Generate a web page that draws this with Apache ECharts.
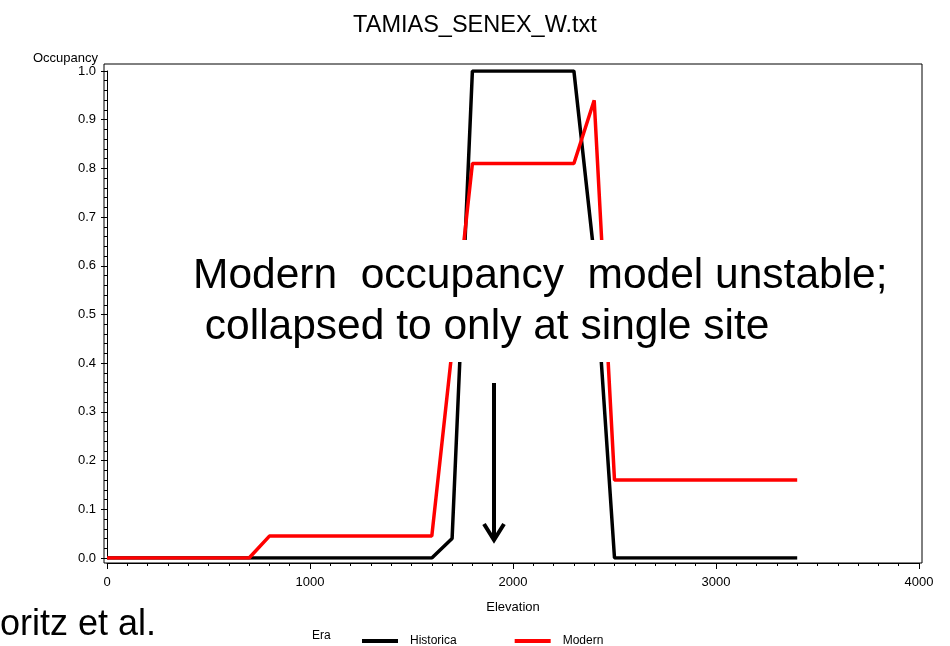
<!DOCTYPE html>
<html>
<head>
<meta charset="utf-8">
<script src="https://cdn.jsdelivr.net/npm/echarts@6/dist/echarts.min.js"></script>
<style>html,body{margin:0;padding:0;background:#fff;}#c{width:950px;height:646px;}</style>
</head>
<body>
<div id="c"></div>
<script>
const chartTitle = 'TAMIAS_SENEX_W.txt';
const seriesNames = ['Historica', 'Modern'];
const historicaElev = [0, 1600, 1700, 1800, 2300, 2400, 2500, 3400];
const historicaOcc  = [0.0, 0.0, 0.04, 1.0, 1.0, 0.62, 0.0, 0.0];
const modernElev = [0, 700, 800, 1600, 1800, 2300, 2400, 2500, 3400];
const modernOcc  = [0.0, 0.0, 0.045, 0.045, 0.81, 0.81, 0.94, 0.16, 0.16];
const annotationLines = ['Modern  occupancy  model unstable;', ' collapsed to only at single site'];
const creditText = 'oritz et al.';

const FONT = 'Liberation Sans, Arial, sans-serif';
const chart = echarts.init(document.getElementById('c'), null, {renderer: 'canvas'});

function pairs(xs, ys) { return xs.map((x, i) => [x, ys[i]]); }

chart.setOption({
  animation: false,
  backgroundColor: '#fff',
  title: {
    text: chartTitle, left: 'center', top: 9,
    textStyle: {fontFamily: FONT, fontSize: 23.5, fontWeight: 'normal', color: '#000'}
  },
  grid: {left: 107, right: 31, top: 71, bottom: 88},
  xAxis: {
    type: 'value', min: 0, max: 4000, interval: 1000, offset: 5,
    name: 'Elevation', nameLocation: 'middle', nameGap: 38,
    nameTextStyle: {fontFamily: FONT, fontSize: 13, color: '#000'},
    axisLine: {show: true, onZero: false, lineStyle: {color: '#000', width: 1}},
    axisTick: {show: true, inside: false, length: 6, lineStyle: {color: '#000'}},
    minorTick: {show: true, splitNumber: 10, length: 3, lineStyle: {color: '#000'}},
    splitLine: {show: false},
    axisLabel: {fontFamily: FONT, fontSize: 13, color: '#000', margin: 13, formatter: v => String(v)}
  },
  yAxis: {
    type: 'value', min: 0, max: 1, interval: 0.1, offset: 3,
    name: 'Occupancy', nameLocation: 'end', nameGap: 6,
    nameTextStyle: {fontFamily: FONT, fontSize: 13, color: '#000', align: 'right', verticalAlign: 'bottom', padding: [0, 9, 0, 0]},
    axisLine: {show: true, lineStyle: {color: '#000', width: 1}},
    axisTick: {show: true, inside: false, length: 6, lineStyle: {color: '#000'}},
    minorTick: {show: true, splitNumber: 5, length: 3, lineStyle: {color: '#000'}},
    splitLine: {show: false},
    axisLabel: {fontFamily: FONT, fontSize: 13, color: '#000', margin: 8, formatter: v => v.toFixed(1)}
  },
  legend: {
    left: 357, top: 630, icon: 'rect', itemWidth: 36, itemHeight: 4, itemGap: 58,
    textStyle: {fontFamily: FONT, fontSize: 12, color: '#000', padding: [0, 0, 0, 7]},
    data: seriesNames
  },
  series: [
    {name: seriesNames[0], type: 'line', data: pairs(historicaElev, historicaOcc), showSymbol: false,
     lineStyle: {color: '#000', width: 3.5}, itemStyle: {color: '#000'}, z: 2},
    {name: seriesNames[1], type: 'line', data: pairs(modernElev, modernOcc), showSymbol: false,
     lineStyle: {color: '#ff0000', width: 3.5}, itemStyle: {color: '#ff0000'}, z: 3}
  ],
  graphic: [
    {type: 'rect', z: 50, silent: true, shape: {x: 104, y: 64, width: 818, height: 499},
     style: {fill: null, stroke: '#000', lineWidth: 1}},
    {type: 'rect', z: 60, silent: true, shape: {x: 186, y: 240, width: 712, height: 122},
     style: {fill: '#fff'}},
    {type: 'text', z: 61, left: 193, top: 255, silent: true,
     style: {text: annotationLines[0], font: '42.5px ' + FONT, fill: '#000'}},
    {type: 'text', z: 61, left: 193, top: 306, silent: true,
     style: {text: annotationLines[1], font: '42.5px ' + FONT, fill: '#000'}},
    {type: 'line', z: 61, silent: true, shape: {x1: 494, y1: 383, x2: 494, y2: 538},
     style: {stroke: '#000', lineWidth: 4}},
    {type: 'polyline', z: 61, silent: true, shape: {points: [[484, 524], [494, 540], [504, 524]]},
     style: {stroke: '#000', lineWidth: 4, fill: null}},
    {type: 'text', z: 61, left: 0, top: 607, silent: true,
     style: {text: creditText, font: '36px ' + FONT, fill: '#000'}},
    {type: 'text', z: 61, left: 312, top: 630, silent: true,
     style: {text: 'Era', font: '12px ' + FONT, fill: '#000'}}
  ]
});
</script>
</body>
</html>
